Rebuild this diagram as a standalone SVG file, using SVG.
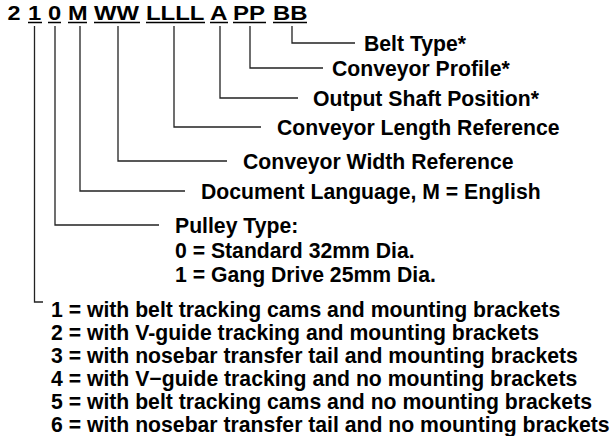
<svg xmlns="http://www.w3.org/2000/svg" width="614" height="436" viewBox="0 0 614 436">
<style>
text{font-family:"Liberation Sans",Arial,Helvetica,sans-serif;font-weight:bold;fill:#000}
.code{font-size:21px}
.lbl{font-size:21.2px}
.ln{fill:none;stroke:#222;stroke-width:1.3}
.ul{fill:none;stroke:#000;stroke-width:1.6}
</style>
<rect width="614" height="436" fill="#fff"/>
<g id="code">
<text class="code" x="7.5" y="19.5" textLength="13" lengthAdjust="spacingAndGlyphs">2</text>
<text class="code" x="28" y="19.5" textLength="13.2" lengthAdjust="spacingAndGlyphs">1</text>
<text class="code" x="48" y="19.5" textLength="13.2" lengthAdjust="spacingAndGlyphs">0</text>
<text class="code" x="68" y="19.5" textLength="19.6" lengthAdjust="spacingAndGlyphs">M</text>
<text class="code" x="94" y="19.5" textLength="45" lengthAdjust="spacingAndGlyphs">WW</text>
<text class="code" x="146" y="19.5" textLength="58.5" lengthAdjust="spacingAndGlyphs">LLLL</text>
<text class="code" x="210" y="19.5" textLength="17.5" lengthAdjust="spacingAndGlyphs">A</text>
<text class="code" x="233" y="19.5" textLength="32" lengthAdjust="spacingAndGlyphs">PP</text>
<text class="code" x="273" y="19.5" textLength="34.5" lengthAdjust="spacingAndGlyphs">BB</text>
<path class="ul" d="M28 22.5H42M48 22.5H61M68 22.5H87M94 22.5H140M146 22.5H205M210 22.5H228M233 22.5H266M273 22.5H307"/>
</g>
<g id="connectors">
<path class="ln" d="M292 26V43H355"/>
<path class="ln" d="M250 26V68H323"/>
<path class="ln" d="M220 26V98H298"/>
<path class="ln" d="M174 26V127H261"/>
<path class="ln" d="M118 26V161H227"/>
<path class="ln" d="M80 26V191H185"/>
<path class="ln" d="M55 26V225H159"/>
<path class="ln" d="M34.5 26V302H43"/>
</g>
<g id="belt-type"><text class="lbl" x="364" y="51">Belt Type*</text></g>
<g id="conveyor-profile"><text class="lbl" x="332" y="76">Conveyor Profile*</text></g>
<g id="output-shaft"><text class="lbl" x="313" y="106">Output Shaft Position*</text></g>
<g id="conveyor-length"><text class="lbl" x="277" y="135">Conveyor Length Reference</text></g>
<g id="conveyor-width"><text class="lbl" x="243" y="169">Conveyor Width Reference</text></g>
<g id="document-language"><text class="lbl" x="201" y="199">Document Language, M = English</text></g>
<g id="pulley-type">
<text class="lbl" x="175" y="233">Pulley Type:</text>
<text class="lbl" x="175" y="258">0 = Standard 32mm Dia.</text>
<text class="lbl" x="175" y="282">1 = Gang Drive 25mm Dia.</text>
</g>
<g id="options">
<text class="lbl" x="51" y="317">1 = with belt tracking cams and mounting brackets</text>
<text class="lbl" x="51" y="340">2 = with V-guide tracking and mounting brackets</text>
<text class="lbl" x="51" y="363">3 = with nosebar transfer tail and mounting brackets</text>
<text class="lbl" x="51" y="386">4 = with V−guide tracking and no mounting brackets</text>
<text class="lbl" x="51" y="409">5 = with belt tracking cams and no mounting brackets</text>
<text class="lbl" x="51" y="432">6 = with nosebar transfer tail and no mounting brackets</text>
</g>
</svg>
